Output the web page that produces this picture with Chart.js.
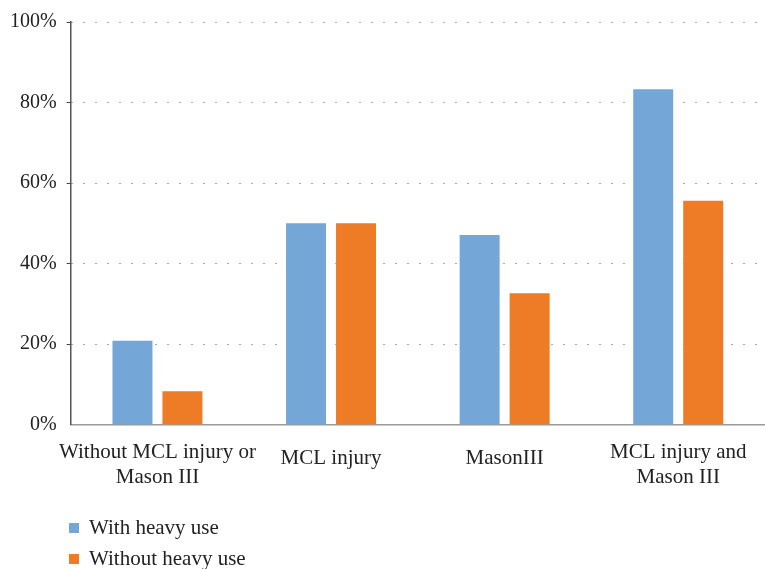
<!DOCTYPE html>
<html>
<head>
<meta charset="utf-8">
<script src="https://cdn.jsdelivr.net/npm/chart.js@4"></script>
<style>
    body { margin: 0; background: #fff; }
    .wrap { position: relative; width: 765px; height: 569px; overflow: hidden; }
    .chart-box { position: absolute; left: 0; top: 0; width: 765px; height: 531px; }
    .legend { position: absolute; left: 69px; top: 512px; font-family: "Liberation Serif", serif; font-size: 21px; color: #222; }
    .legend-item { height: 31px; line-height: 31px; white-space: nowrap; }
    .legend-item span { display: inline-block; width: 10px; height: 10px; margin-right: 10px; vertical-align: 1px; }
</style>
</head>
<body>
<div class="wrap">
    <div class="chart-box"><canvas id="bar-chart"></canvas></div>
    <div class="legend" id="legend"></div>
</div>
<script>
// Data
const categories = [
    ["Without MCL injury or", "Mason III"],
    "MCL injury",
    "MasonIII",
    ["MCL injury and", "Mason III"]
];
const seriesNames = ["With heavy use", "Without heavy use"];
const withHeavyUse = [20.8, 50, 47.1, 83.3];
const withoutHeavyUse = [8.3, 50, 32.6, 55.6];
const seriesColors = ["#74A6D7", "#EE7B25"];

const serif = "'Liberation Serif', 'Times New Roman', serif";

const barCanvas = document.getElementById("bar-chart");

let barChart = new Chart(barCanvas, {
    type: 'bar',
    data: {
        labels: categories,
        datasets: [{
            label: seriesNames[0],
            data: withHeavyUse,
            backgroundColor: seriesColors[0],
            categoryPercentage: 0.576,
            barPercentage: 0.8
        }, {
            label: seriesNames[1],
            data: withoutHeavyUse,
            backgroundColor: seriesColors[1],
            categoryPercentage: 0.576,
            barPercentage: 0.8
        }]
    },
    options: {
        responsive: true,
        maintainAspectRatio: false,
        animation: false,
        layout: {
            padding: { top: 19, right: 0, left: 0, bottom: 0 }
        },
        scales: {
            x: {
                grid: { display: false, drawTicks: false },
                border: { color: "#9a9a9a", width: 1.5 },
                ticks: {
                    color: "#222",
                    // single-line labels sit a bit higher than the middle of two lines
                    font: (ctx) => ({
                        family: serif,
                        size: 21,
                        lineHeight: Array.isArray(categories[ctx.index]) ? 1.2 : 1.8
                    }),
                    padding: 28,
                    maxRotation: 0,
                    autoSkip: false,
                    crossAlign: 'center'
                },
                // let the plot run to the right edge
                afterFit: (scale) => { scale.paddingRight = 0; }
            },
            y: {
                min: 0,
                max: 100,
                grid: {
                    color: "#555",
                    lineWidth: (ctx) => ctx.tick && ctx.tick.value === 0 ? 0 : 1,
                    tickColor: "#444",
                    tickLength: 4
                },
                // v4: border.dash styles the grid lines
                border: { color: "#555", width: 1.5, dash: [1, 11] },
                ticks: {
                    stepSize: 20,
                    color: "#222",
                    font: { family: serif, size: 20 },
                    padding: 10,
                    callback: (value) => value + "%"
                }
            }
        },
        plugins: {
            legend: { display: false },
            tooltip: { enabled: false }
        }
    }
});

// Legend
const legend = document.getElementById("legend");
legend.innerHTML = seriesNames.map((name, i) =>
    `<div class="legend-item"><span style="background:${seriesColors[i]}"></span>${name}</div>`
).join('');
</script>
</body>
</html>
